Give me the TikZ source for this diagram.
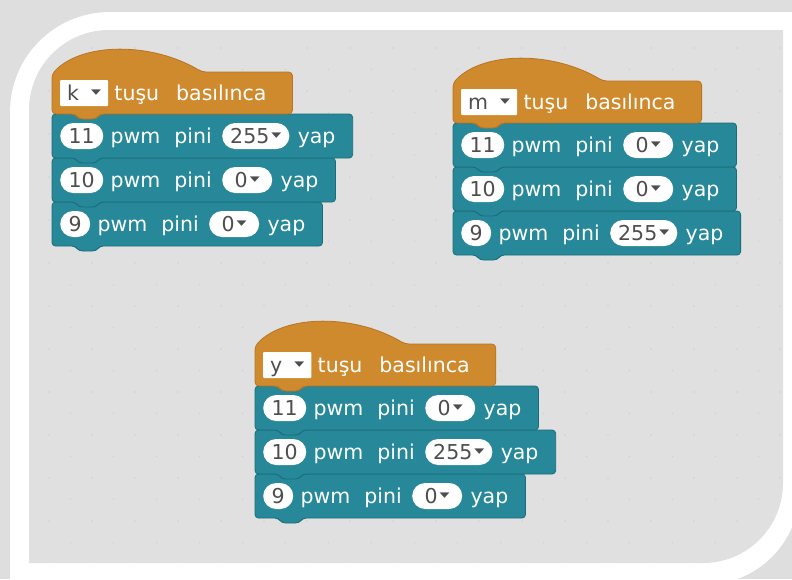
\documentclass[tikz,border=0pt]{standalone}
\usepackage{fontspec}
\setmainfont{DejaVu Sans}
\usepackage{graphicx}
\usetikzlibrary{calc}
\definecolor{outerbg}{RGB}{222,222,222}
\definecolor{panelbg}{RGB}{224,224,224}
\definecolor{gridspeck}{RGB}{209,209,209}
\definecolor{hatfill}{RGB}{208,138,46}
\definecolor{hatedge}{RGB}{184,116,34}
\definecolor{rowfill}{RGB}{38,136,152}
\definecolor{rowedge}{RGB}{26,108,122}
\definecolor{txtgrey}{RGB}{78,78,78}

\pgfdeclarelayer{framelayer}
\pgfdeclarelayer{background}
\pgfsetlayers{framelayer,background,main}

\newcommand\blkfont{\fontsize{20.5}{24}\selectfont}
\newcommand\ddtri{\raisebox{6pt}{\scalebox{1}[0.55]{\fontsize{13}{13}\selectfont ▼}}}

\tikzset{
  blk/.style={inner sep=0pt, text height=15pt, text depth=0pt, font=\blkfont},
  lbl/.style={blk, text=white},
  pinbox/.style={blk, fill=white, text=txtgrey, rounded corners=13pt, inner xsep=8.5pt, inner ysep=5.5pt},
  ddbox/.style={pinbox, minimum width=50pt, inner xsep=8pt},
  keybox/.style={blk, fill=white, text=txtgrey, inner xsep=7pt, inner ysep=5.5pt, rounded corners=1pt},
  rowshape/.style={fill=rowfill, draw=rowedge, line width=0.8pt, rounded corners=3.5pt},
  hatshape/.style={fill=hatfill, draw=hatedge, line width=0.8pt, rounded corners=4pt},
}

\newcommand\pwmrow[5]{%
  \node[pinbox, anchor=west] (#1p) at (#2+8, -#3-22) {#4};
  \node[lbl, anchor=west] (#1t) at ([xshift=7pt]#1p.east) {pwm\hspace{14pt}pini};
  \node[ddbox, anchor=west] (#1d) at ([xshift=10pt]#1t.east) {#5\hspace{2pt}\ddtri};
  \node[lbl, anchor=west] (#1y) at ([xshift=8pt]#1d.east) {yap};
  \begin{pgfonlayer}{background}
    \path[rowshape] let \p1=(#1y.east) in
      (#2,-#3) -- (\x1+17pt,-#3) -- (\x1+17pt,-#3-44) -- (#2+48,-#3-44)
      -- (#2+44,-#3-49) -- (#2+27,-#3-49) -- (#2+23,-#3-44) -- (#2,-#3-44) -- cycle;
  \end{pgfonlayer}
}

\newcommand\hatblock[4]{%
  \node[keybox, anchor=west] (#1k) at (#2+8, -#3-21) {#4\hspace{12pt}\ddtri};
  \node[lbl, anchor=west] (#1t) at ([xshift=6pt]#1k.east) {tuşu\hspace{17pt}basılınca};
  \begin{pgfonlayer}{background}
    \path[hatshape] let \p1=(#1t.east) in
      (#2,-#3-42) -- (#2,-#3-2) .. controls (#2+30,-#3+30) and (#2+100,-#3+30) .. (#2+150,-#3)
      -- (\x1+26pt,-#3) -- (\x1+26pt,-#3-42) -- (#2+48,-#3-42)
      -- (#2+44,-#3-47) -- (#2+27,-#3-47) -- (#2+23,-#3-42) -- cycle;
  \end{pgfonlayer}
}

\begin{document}
\begin{tikzpicture}[x=1pt, y=1pt]
\useasboundingbox (0,0) rectangle (792,-579);
\begin{pgfonlayer}{framelayer}
% outer background and white frame
\fill[outerbg] (0,0) rectangle (792,-579);
\fill[white] (10,-585) -- (10,-112) arc[start angle=180, end angle=90, radius=100]
  -- (800,-12) -- (800,-489) arc[start angle=0, end angle=-90, radius=96] -- cycle;
% inner panel
\fill[panelbg] (29,-563) -- (29,-110) arc[start angle=180, end angle=90, radius=80]
  -- (783,-30) -- (783,-483) arc[start angle=0, end angle=-90, radius=80] -- cycle;
\begin{scope}
  \clip (29,-563) -- (29,-110) arc[start angle=180, end angle=90, radius=80]
    -- (783,-30) -- (783,-483) arc[start angle=0, end angle=-90, radius=80] -- cycle;
  \foreach \j in {0,...,24} {
    \foreach \i in {0,...,18} {
      \fill[gridspeck] ({6+43*\i+21.5*mod(\j,2)}, {-(48+21.5*\j)}) circle (0.9);
    }
  }
\end{scope}
\end{pgfonlayer}

% block 1
\pwmrow{a3}{52}{202}{9}{0}
\pwmrow{a2}{52}{158}{10}{0}
\pwmrow{a1}{52}{114}{11}{255}
\hatblock{ah}{52}{72}{k}

% block 2
\pwmrow{b3}{453}{211}{9}{255}
\pwmrow{b2}{453}{167}{10}{0}
\pwmrow{b1}{453}{123}{11}{0}
\hatblock{bh}{453}{81}{m}

% block 3
\pwmrow{c3}{255}{474}{9}{0}
\pwmrow{c2}{255}{430}{10}{255}
\pwmrow{c1}{255}{386}{11}{0}
\hatblock{ch}{255}{344}{y}
\end{tikzpicture}
\end{document}
